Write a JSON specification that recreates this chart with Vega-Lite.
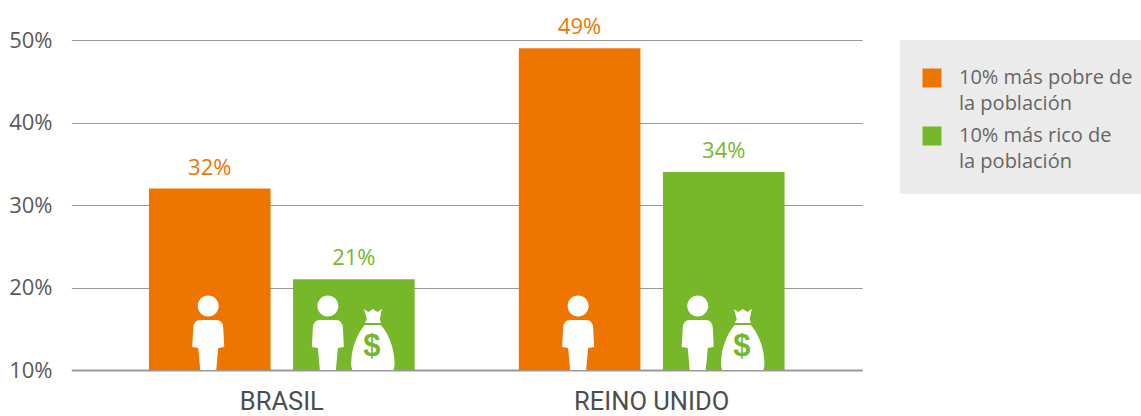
{
"$schema":"https://vega.github.io/schema/vega-lite/v6.json",
"width":791,"height":330,
"autosize":"none",
"padding":{"left":70,"top":40,"right":280,"bottom":46},
"background":"#ffffff",
"config":{"view":{"stroke":null},"font":"Open Sans"},
"data":{"values":[
{"pais":"BRASIL","serie":"10% más pobre de la población","valor":32,"etiqueta":"32%"},
{"pais":"BRASIL","serie":"10% más rico de la población","valor":21,"etiqueta":"21%"},
{"pais":"REINO UNIDO","serie":"10% más pobre de la población","valor":49,"etiqueta":"49%"},
{"pais":"REINO UNIDO","serie":"10% más rico de la población","valor":34,"etiqueta":"34%"}
]},
"encoding":{
"x":{"field":"pais","type":"nominal","title":null,"scale":{"paddingInner":0.2815,"paddingOuter":0.21,"range":[1.25,792.25]},
"axis":{"domain":false,"ticks":false,"labelAngle":0,"labelFont":"Roboto","labelFontSize":25.5,"labelColor":"#4d4d4d","labelPadding":19,"grid":false}},
"xOffset":{"field":"serie","type":"nominal","scale":{"domain":["10% más pobre de la población","10% más rico de la población"],"paddingInner":0.156,"paddingOuter":0}},
"y":{"field":"valor","type":"quantitative","title":null,"scale":{"domain":[10,50],"zero":false,"nice":false},
"axis":{"values":[10,20,30,40,50],"domain":false,"ticks":false,"grid":true,"gridColor":"#999999","gridWidth":{"condition":{"test":"datum.value==10","value":2},"value":1},"labelExpr":"datum.label+'%'","labelFontSize":22,"labelColor":"#5a5a5a","labelPadding":18}}
},
"layer":[
{"mark":{"type":"bar"},
"encoding":{"y2":{"datum":10},
"color":{"field":"serie","type":"nominal","title":" ",
"scale":{"domain":["10% más pobre de la población","10% más rico de la población"],"range":["#ee7500","#76b82a"]},
"legend":{"orient":"none","legendX":830,"legendY":0,"fillColor":"#ebebeb","padding":22,"symbolType":"square","symbolSize":361,"symbolStrokeWidth":0,"symbolOpacity":1,"labelFontSize":20,"labelColor":"#666666","labelLimit":400,"labelOffset":17,"rowPadding":12,"titleFontSize":1,"titlePadding":5,
"labelExpr":"[slice(datum.label,0,-12),'la población']",
"encoding":{"labels":{"lineHeight":{"value":26}}}}}}},
{"mark":{"type":"text","baseline":"bottom","dy":-9,"fontSize":22},
"encoding":{"text":{"field":"etiqueta","type":"nominal"},"color":{"field":"serie","type":"nominal","legend":null}}},
{"transform":[{"filter":"indexof(datum.serie,'pobre')>=0"}],
"mark":{"type":"point","filled":true,"opacity":1,"color":"#ffffff","size":4,"strokeWidth":0,
"shape":"M-12,-64A10.5,10.5 0 1,1 9,-64A10.5,10.5 0 1,1 -12,-64ZM-9.5,-50L6.5,-50Q13,-50 13.5,-42L14.5,-23L8.5,-22L6.5,0L-9.5,0L-11.5,-22L-17.5,-23L-16.5,-42Q-16,-50 -9.5,-50Z"},
"encoding":{"y":{"datum":10}}},
{"transform":[{"filter":"indexof(datum.serie,'rico')>=0"}],
"mark":{"type":"point","filled":true,"opacity":1,"color":"#ffffff","size":4,"strokeWidth":0,
"shape":"M-36.5,-64A10.5,10.5 0 1,1 -15.5,-64A10.5,10.5 0 1,1 -36.5,-64ZM-34,-50L-18,-50Q-11.5,-50 -11,-42L-10,-23L-16,-22L-18,0L-34,0L-36,-22L-42,-23L-41,-42Q-40.5,-50 -34,-50Z"},
"encoding":{"y":{"datum":10}}},
{"transform":[{"filter":"indexof(datum.serie,'rico')>=0"}],
"mark":{"type":"point","filled":true,"opacity":1,"color":"#ffffff","size":4,"strokeWidth":0,
"shape":"M10,-61L14.5,-58L19,-61L23.5,-58L28,-61L26,-51L27,-47L11,-47L13,-51ZM11,-45L27,-45C35,-36 40,-22 40.5,-10C41,-5 40.5,-2 39.5,0L-1.5,0C-2.5,-2 -3,-5 -2.5,-10C-2,-22 3,-36 11,-45Z"},
"encoding":{"y":{"datum":10}}},
{"transform":[{"filter":"indexof(datum.serie,'rico')>=0"}],
"mark":{"type":"text","text":"$","color":"#76b82a","fontSize":31,"fontWeight":"bold","font":"Liberation Sans","dx":18,"dy":-23},
"encoding":{"y":{"datum":10}}}
]
}
